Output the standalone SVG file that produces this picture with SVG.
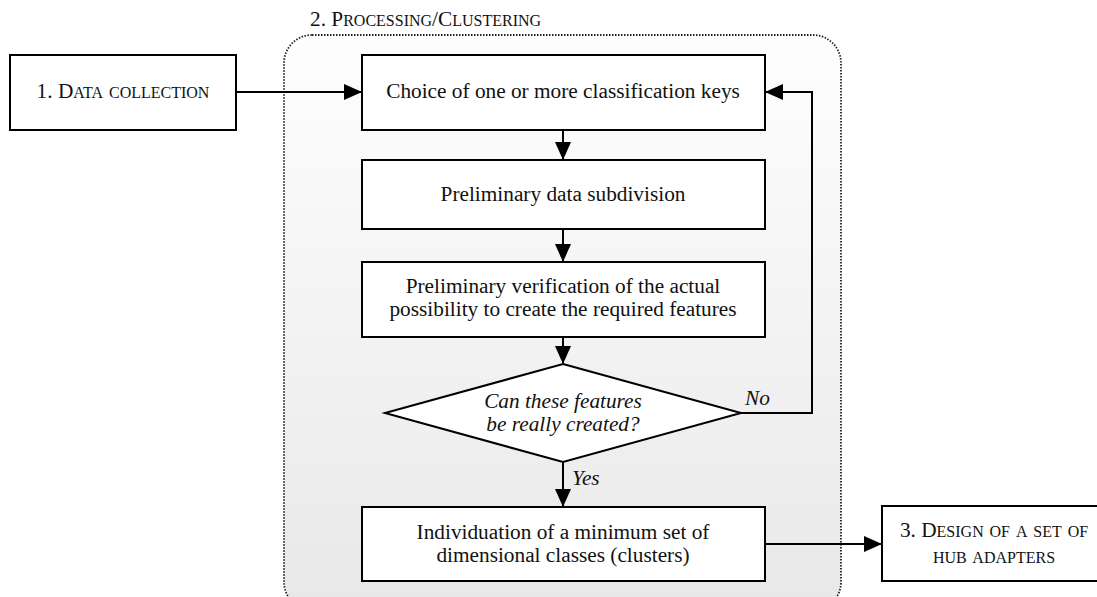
<svg xmlns="http://www.w3.org/2000/svg" width="1097" height="597" viewBox="0 0 1097 597">
<style>
.box{fill:#fff;stroke:#000;stroke-width:2}
.t{font-family:"Liberation Serif","DejaVu Serif","Times New Roman",serif;font-size:21.3px;fill:#111;text-anchor:middle}
.st{text-anchor:start}
.s{font-variant:small-caps;font-size:23.5px}
.i{font-style:italic}
.c{fill:none;stroke:#000;stroke-width:2}
</style>
<defs>
<linearGradient id="g" x1="0" y1="0" x2="0" y2="1">
<stop offset="0" stop-color="#fefefe"/>
<stop offset="1" stop-color="#e8e8e8"/>
</linearGradient>
<marker id="ah" markerWidth="18" markerHeight="18" refX="17" refY="9" orient="auto" markerUnits="userSpaceOnUse" viewBox="0 0 18 18">
<path d="M0,1 L18,9 L0,17 z" fill="#000"/>
</marker>
</defs>
<g id="container">
<rect x="284" y="35" width="557" height="575" rx="28" ry="28" fill="url(#g)" stroke="#222" stroke-width="1.8" stroke-dasharray="1.5,1.5"/>
<text class="t st" x="310" y="26">2. P<tspan class="s">rocessing</tspan>/C<tspan class="s">lustering</tspan></text>
</g>
<g id="connectors">
<path class="c" d="M236,92 H361" marker-end="url(#ah)"/>
<path class="c" d="M563,130 V159" marker-end="url(#ah)"/>
<path class="c" d="M563,229 V261" marker-end="url(#ah)"/>
<path class="c" d="M563,337 V363" marker-end="url(#ah)"/>
<path class="c" d="M563,462 V506" marker-end="url(#ah)"/>
<path class="c" d="M741,413 H812 V92 H766" marker-end="url(#ah)"/>
<path class="c" d="M765,544 H881" marker-end="url(#ah)"/>
<text class="t i st" x="572" y="485">Yes</text>
<text class="t i st" x="745" y="405">No</text>
</g>
<g id="n1">
<rect class="box" x="10" y="55" width="226" height="75"/>
<text class="t" x="123" y="98">1. D<tspan class="s">ata collection</tspan></text>
</g>
<g id="nA">
<rect class="box" x="362" y="55" width="403" height="75"/>
<text class="t" x="563" y="98">Choice of one or more classification keys</text>
</g>
<g id="nB">
<rect class="box" x="362" y="160" width="403" height="69"/>
<text class="t" x="563" y="201">Preliminary data subdivision</text>
</g>
<g id="nC">
<rect class="box" x="362" y="262" width="403" height="75"/>
<text class="t" x="563" y="293">Preliminary verification of the actual</text>
<text class="t" x="563" y="316">possibility to create the required features</text>
</g>
<g id="nD">
<polygon class="box" points="563,364 741,413 563,462 385,413"/>
<text class="t i" x="563" y="408">Can these features</text>
<text class="t i" x="563" y="431">be really created?</text>
</g>
<g id="nE">
<rect class="box" x="362" y="507" width="403" height="74"/>
<text class="t" x="563" y="539">Individuation of a minimum set of</text>
<text class="t" x="563" y="562">dimensional classes (clusters)</text>
</g>
<g id="n3">
<rect class="box" x="882" y="506" width="220" height="75"/>
<text class="t" x="994" y="537">3. D<tspan class="s">esign of a set of</tspan></text>
<text class="t" x="994" y="563"><tspan class="s" style="font-size:22.5px">hub adapters</tspan></text>
</g>
</svg>
